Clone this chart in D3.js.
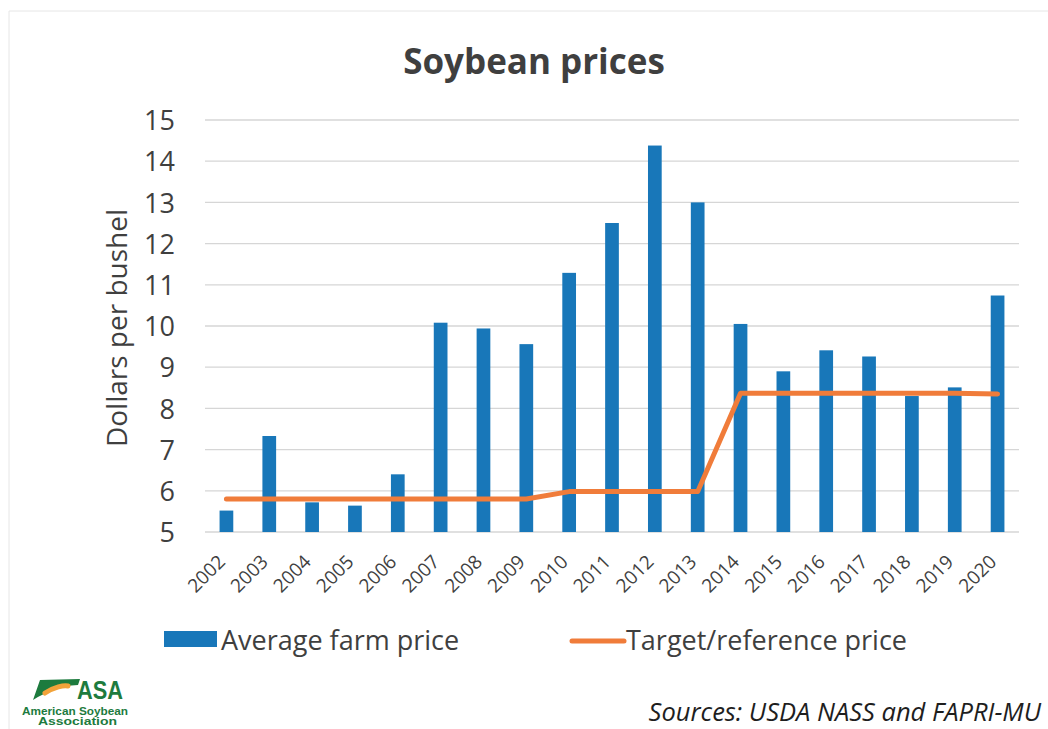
<!DOCTYPE html>
<html>
<head>
<meta charset="utf-8">
<script src="https://cdn.jsdelivr.net/npm/d3@7"></script>
<style>
  body { margin: 0; background: #fff; }
  svg { display: block; font-family: "Open Sans", Lato, sans-serif; }
</style>
</head>
<body>
<div id="container"></div>
<script>
// data
const years = ["2002","2003","2004","2005","2006","2007","2008","2009","2010","2011",
               "2012","2013","2014","2015","2016","2017","2018","2019","2020"];
const farmPrice = [5.52, 7.33, 5.72, 5.64, 6.40, 10.08, 9.94, 9.56, 11.29, 12.50,
                   14.38, 13.00, 10.05, 8.90, 9.41, 9.26, 8.30, 8.51, 10.74];
const refPrice = [5.80, 5.80, 5.80, 5.80, 5.80, 5.80, 5.80, 5.80, 5.98, 5.98,
                  5.98, 5.98, 8.37, 8.37, 8.37, 8.37, 8.37, 8.37, 8.35];
const yTicks = [5, 6, 7, 8, 9, 10, 11, 12, 13, 14, 15];

const width = 1048, height = 729;
const margin = {top: 120, right: 29, bottom: 197, left: 205};

const svg = d3.select("#container").append("svg")
    .attr("width", width).attr("height", height);

// faint scan edge
svg.append("path")
    .attr("d", "M9,729V11H1048")
    .attr("fill", "none").attr("stroke", "#e6e6e6").attr("stroke-width", 1);

const x = d3.scaleBand(years, [margin.left, width - margin.right])
    .paddingInner(0.68).paddingOuter(0.34);
const y = d3.scaleLinear([5, 15], [height - margin.bottom, margin.top]);
const xc = d => x(d) + x.bandwidth() / 2;

const ink = "#3f3f3f";

// grid
svg.append("g")
    .selectAll("line")
    .data(yTicks)
    .join("line")
      .attr("x1", margin.left)
      .attr("x2", width - margin.right)
      .attr("y1", d => y(d))
      .attr("y2", d => y(d))
      .attr("stroke", "#d6d6d6")
      .attr("stroke-width", 1.3);

// y axis labels
const yAxis = g => g
    .attr("transform", `translate(${margin.left - 30},0)`)
    .call(d3.axisLeft(y).tickValues(yTicks).tickSize(0).tickPadding(0))
    .call(g => g.select(".domain").remove())
    .call(g => g.selectAll("text")
        .attr("fill", ink)
        .attr("font-size", 27)
        .attr("dy", "0.36em"));
svg.append("g").call(yAxis).attr("font-family", null);

// x axis labels
const xAxis = g => g
    .attr("transform", `translate(0,${height - margin.bottom})`)
    .call(d3.axisBottom(x).tickSize(0).tickPadding(0))
    .call(g => g.select(".domain").remove())
    .call(g => g.selectAll("text")
        .attr("fill", ink)
        .attr("font-size", 19)
        .attr("text-anchor", "end")
        .attr("dy", null)
        .attr("transform", "translate(0,31) rotate(-45)"));
svg.append("g").call(xAxis).attr("font-family", null);

// bars
svg.append("g")
    .attr("fill", "#1877b9")
    .selectAll("rect")
    .data(years)
    .join("rect")
      .attr("x", d => x(d))
      .attr("width", x.bandwidth())
      .attr("y", (d, i) => y(farmPrice[i]))
      .attr("height", (d, i) => y(5) - y(farmPrice[i]));

// reference line
const line = d3.line()
    .x((d, i) => xc(years[i]))
    .y(d => y(d));
svg.append("path")
    .datum(refPrice)
    .attr("d", line)
    .attr("fill", "none")
    .attr("stroke", "#f07c3a")
    .attr("stroke-width", 5)
    .attr("stroke-linejoin", "round")
    .attr("stroke-linecap", "round");

// title
svg.append("text")
    .attr("x", 534).attr("y", 74)
    .attr("text-anchor", "middle")
    .attr("font-size", 35)
    .attr("font-weight", "bold")
    .attr("fill", ink)
    .text("Soybean prices");

// y title
svg.append("text")
    .attr("transform", `translate(127,${(y(5) + y(15)) / 2 + 2}) rotate(-90)`)
    .attr("text-anchor", "middle")
    .attr("font-size", 28)
    .attr("fill", ink)
    .text("Dollars per bushel");

// legend
const lg = svg.append("g").attr("font-size", 27).attr("fill", ink);
lg.append("rect").attr("x", 164).attr("y", 631).attr("width", 53).attr("height", 16).attr("fill", "#1877b9");
lg.append("text").attr("x", 221).attr("y", 650).text("Average farm price");
lg.append("line").attr("x1", 572).attr("x2", 624).attr("y1", 641).attr("y2", 641)
    .attr("stroke", "#f07c3a").attr("stroke-width", 5).attr("stroke-linecap", "round");
lg.append("text").attr("x", 626).attr("y", 650).text("Target/reference price");

// source
svg.append("text")
    .attr("x", 1041).attr("y", 721)
    .attr("text-anchor", "end")
    .attr("font-size", 25.5)
    .attr("font-style", "italic")
    .attr("fill", "#1e1e1e")
    .text("Sources: USDA NASS and FAPRI-MU");

// ASA logo
const green = "#1d7b3e";
const logo = svg.append("g").attr("transform", "translate(10,670)");
logo.append("path")
    .attr("d", "M30,10 L70,9 L68,15 C50,16 36,22 23,30 Z")
    .attr("fill", green);
logo.append("path")
    .attr("d", "M35,23 C44,17 54,15 58,16")
    .attr("fill", "none").attr("stroke", "#f2a33a").attr("stroke-width", 5).attr("stroke-linecap", "round");
logo.append("text")
    .attr("x", 67).attr("y", 29)
    .attr("font-family", "Liberation Sans, Arial, sans-serif")
    .attr("font-weight", "bold").attr("font-size", 25)
    .attr("textLength", 46).attr("lengthAdjust", "spacingAndGlyphs")
    .attr("fill", green)
    .text("ASA");
logo.append("text")
    .attr("x", 12).attr("y", 44.5)
    .attr("font-family", "Liberation Sans, Arial, sans-serif")
    .attr("font-weight", "bold").attr("font-size", 10.5)
    .attr("textLength", 106).attr("lengthAdjust", "spacingAndGlyphs")
    .attr("fill", green)
    .text("American Soybean");
logo.append("text")
    .attr("x", 28).attr("y", 54.5)
    .attr("font-family", "Liberation Sans, Arial, sans-serif")
    .attr("font-weight", "bold").attr("font-size", 10.5)
    .attr("textLength", 79).attr("lengthAdjust", "spacingAndGlyphs")
    .attr("fill", green)
    .text("Association");
</script>
</body>
</html>
